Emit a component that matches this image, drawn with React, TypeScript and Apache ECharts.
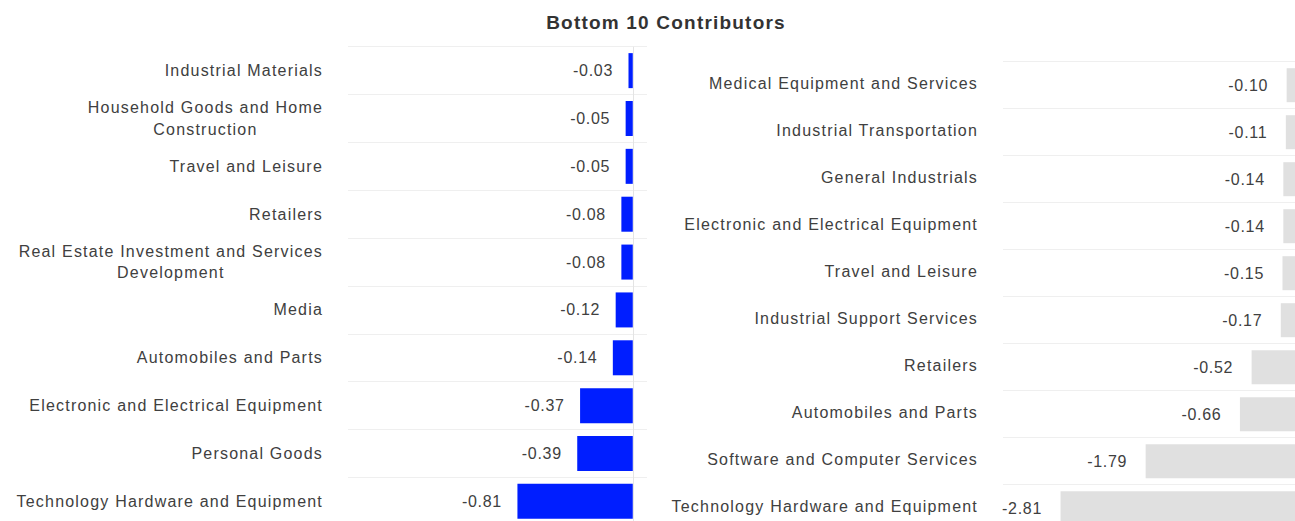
import React, { useEffect, useRef } from "react";
import * as echarts from "echarts";

const leftCategories = [
  "Industrial Materials",
  "Household Goods and Home Construction",
  "Travel and Leisure",
  "Retailers",
  "Real Estate Investment and Services Development",
  "Media",
  "Automobiles and Parts",
  "Electronic and Electrical Equipment",
  "Personal Goods",
  "Technology Hardware and Equipment",
];
const leftValues = [-0.03, -0.05, -0.05, -0.08, -0.08, -0.12, -0.14, -0.37, -0.39, -0.81];

const rightCategories = [
  "Medical Equipment and Services",
  "Industrial Transportation",
  "General Industrials",
  "Electronic and Electrical Equipment",
  "Travel and Leisure",
  "Industrial Support Services",
  "Retailers",
  "Automobiles and Parts",
  "Software and Computer Services",
  "Technology Hardware and Equipment",
];
const rightValues = [-0.1, -0.11, -0.14, -0.14, -0.15, -0.17, -0.52, -0.66, -1.79, -2.81];

const titleText = "Bottom 10 Contributors";

const CAT_FONT = "'Liberation Sans', Helvetica, sans-serif";
const VAL_FONT = "'Liberation Sans', Arial, sans-serif";
const TITLE_FONT = "'Liberation Sans', Tahoma, sans-serif";
const TEXT = "#404040";
const CAT_SPACING = 1.2;
const VAL_SPACING = 0.7;
const TITLE_SPACING = 1.2;
const WRAP_LIMIT = 35;

function wrapLines(name: string, limit: number): string[] {
  const words = name.split(" ");
  const lines: string[] = [];
  let cur = "";
  for (const w of words) {
    const next = cur ? cur + " " + w : w;
    if (next.length > limit && cur) {
      lines.push(cur);
      cur = w;
    } else {
      cur = next;
    }
  }
  if (cur) lines.push(cur);
  return lines;
}

// rich styles for centred multi-line labels (compensating the css letter spacing)
const richStyles: Record<string, any> = {};
[...leftCategories, ...rightCategories].forEach((c) => {
  const lines = wrapLines(c, WRAP_LIMIT);
  if (lines.length > 1) {
    const n = Math.max(...lines.map((l) => l.length));
    richStyles["w" + n] = {
      align: "center",
      fontSize: 16,
      fontFamily: CAT_FONT,
      color: TEXT,
      lineHeight: 21.6,
      padding: [0, (CAT_SPACING * n) / 2, 0, 0],
    };
  }
});

function formatCategory(v: string): string {
  const lines = wrapLines(v, WRAP_LIMIT);
  if (lines.length === 1) return v;
  const n = Math.max(...lines.map((l) => l.length));
  return lines.map((l) => "{w" + n + "|" + l + "}").join("\n");
}

const catLabel = (padding: number[]) => ({
  margin: 25,
  color: TEXT,
  fontSize: 16,
  fontFamily: CAT_FONT,
  padding,
  formatter: formatCategory,
  rich: richStyles,
});

const valLabel = (distance: number) => ({
  show: true,
  position: "left",
  distance,
  color: TEXT,
  fontSize: 16,
  fontFamily: VAL_FONT,
  formatter: (p: any) => p.value.toFixed(2),
});

const css = `
.bc-wrap svg text[style*="Helvetica"] { letter-spacing: ${CAT_SPACING}px; }
.bc-wrap svg text[style*="Arial"] { letter-spacing: ${VAL_SPACING}px; }
.bc-wrap svg text[style*="Tahoma"] { letter-spacing: ${TITLE_SPACING}px; }
`;

export default function App() {
  const ref = useRef<HTMLDivElement>(null);
  useEffect(() => {
    if (!ref.current) return;
    const chart = echarts.init(ref.current, undefined, { renderer: "svg" });
    chart.setOption({
      animation: false,
      backgroundColor: "#ffffff",
      title: {
        text: titleText,
        left: 666,
        top: 13,
        padding: 0,
        textAlign: "center",
        textStyle: { fontSize: 19, fontWeight: "bold", color: "#333333", fontFamily: TITLE_FONT },
      },
      grid: [
        { left: 348, top: 46.7, width: 299, height: 478.6, containLabel: false },
        { left: 1003, top: 61.7, width: 300, height: 470, containLabel: false },
      ],
      xAxis: [
        { gridIndex: 0, type: "value", min: -2, max: 0.1, show: false },
        { gridIndex: 1, type: "value", min: -3.5, max: 0.096, show: false },
      ],
      yAxis: [
        {
          gridIndex: 0,
          type: "category",
          data: leftCategories,
          inverse: true,
          axisLine: { show: false },
          axisTick: { show: false },
          splitLine: { show: true, lineStyle: { color: "#efefef", width: 1 } },
          axisLabel: catLabel([0, 0, 0, 0]),
        },
        {
          gridIndex: 1,
          type: "category",
          data: rightCategories,
          inverse: true,
          axisLine: { show: false },
          axisTick: { show: false },
          splitLine: { show: true, lineStyle: { color: "#efefef", width: 1 } },
          axisLabel: catLabel([0, 0, 4, 0]),
        },
      ],
      series: [
        {
          type: "bar",
          xAxisIndex: 0,
          yAxisIndex: 0,
          data: leftValues,
          barWidth: 35,
          itemStyle: { color: "#001eff" },
          label: valLabel(15.5),
          markLine: {
            silent: true,
            symbol: ["none", "none"],
            label: { show: false },
            lineStyle: { color: "#e4e4e4", type: "solid", width: 1 },
            data: [{ xAxis: 0 }],
          },
        },
        {
          type: "bar",
          xAxisIndex: 1,
          yAxisIndex: 1,
          data: rightValues,
          barWidth: 34,
          itemStyle: { color: "#e0e0e0" },
          label: valLabel(18.5),
        },
      ],
    });
    return () => chart.dispose();
  }, []);
  return (
    <div
      className="bc-wrap"
      style={{ position: "fixed", left: 0, top: 0, width: 1295, height: 521, overflow: "hidden", background: "#fff" }}
    >
      <style>{css}</style>
      <div ref={ref} style={{ width: 1320, height: 540 }} />
    </div>
  );
}
